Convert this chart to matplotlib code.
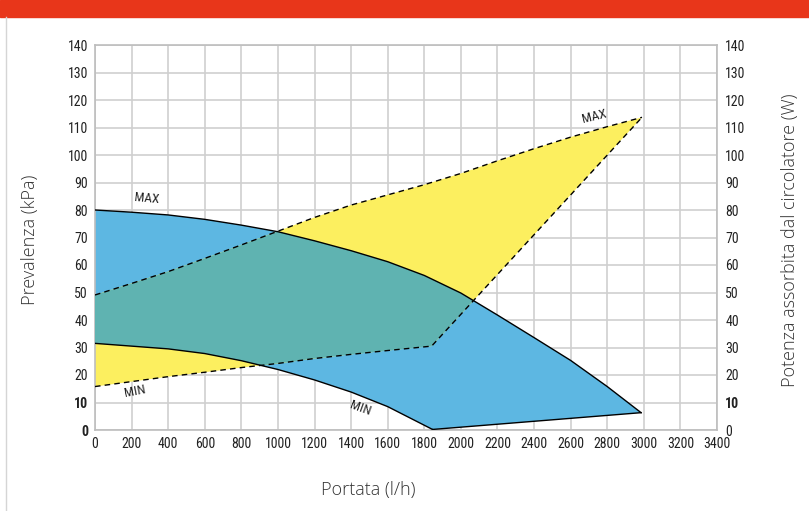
import numpy as np
import matplotlib.pyplot as plt
from matplotlib.patches import Polygon

plt.rcParams['font.family'] = ['Roboto Condensed', 'DejaVu Sans']

# curva prevalenza (kPa)
portata_max = [0, 200, 400, 600, 800, 1000, 1200, 1400, 1600, 1800, 2000, 2200, 2400, 2600, 2800, 2985]
prev_max = [80, 79.2, 78.2, 76.6, 74.5, 72.1, 68.8, 65.2, 61.2, 56.2, 49.8, 41.8, 33.6, 25.3, 15.8, 6.3]
portata_min = [0, 200, 400, 600, 800, 1000, 1200, 1400, 1600, 1845]
prev_min = [31.5, 30.5, 29.5, 27.8, 25.2, 22, 18.2, 13.8, 8.5, 0.2]

# potenza assorbita (W)
pot_portata_max = [0, 200, 400, 600, 800, 1000, 1200, 1400, 1600, 1800, 2000, 2200, 2400, 2600, 2800, 2990]
pot_max = [49.1, 53.3, 57.6, 62.4, 67.3, 72.3, 77.3, 81.8, 85.5, 89.2, 93.3, 97.9, 102.3, 106.5, 110.3, 113.7]
pot_portata_min = [0, 200, 400, 600, 800, 1000, 1200, 1400, 1600, 1840, 2990]
pot_min = [15.8, 17.6, 19.4, 21, 22.7, 24.2, 26, 27.5, 28.9, 30.5, 113.7]

x_ticks = list(range(0, 3401, 200))
y_ticks = list(range(0, 141, 10))

blu = '#5db7e2'
giallo = '#fcef5f'
verde = '#5fb3b1'
griglia = '#cfcfcf'

fig = plt.figure(figsize=(8.09, 5.11), dpi=100)
fig.patches.append(plt.Rectangle((0, 1 - 17 / 511), 1, 17 / 511, transform=fig.transFigure,
                                 color='#e8361a', zorder=0))
fig.lines.append(plt.Line2D([6 / 809, 6 / 809], [0, 1 - 17 / 511], transform=fig.transFigure,
                            color='#d5d5d5', lw=1))

ax = fig.add_axes([95 / 809, 1 - 430 / 511, 622 / 809, 385 / 511])
ax.set_xlim(0, 3400)
ax.set_ylim(0, 140)

# poligono pompa
pompa = list(zip(portata_max, prev_max)) + list(zip(portata_min, prev_min))[::-1]
pompa_patch = Polygon(pompa, closed=True, facecolor=blu, edgecolor='none', zorder=2)
ax.add_patch(pompa_patch)

# poligono potenza
potenza = list(zip(pot_portata_max, pot_max)) + list(zip(pot_portata_min, pot_min))[::-1]
ax.add_patch(Polygon(potenza, closed=True, facecolor=giallo, edgecolor='none', zorder=2))

# sovrapposizione
sovr = Polygon(potenza, closed=True, facecolor=verde, edgecolor='none', zorder=3)
ax.add_patch(sovr)
sovr.set_clip_path(pompa_patch)

# contorni
ax.plot(portata_max, prev_max, color='black', lw=1, zorder=4)
ax.plot(portata_min, prev_min, color='black', lw=1, zorder=4)
ax.plot([portata_min[-1], portata_max[-1]], [prev_min[-1], prev_max[-1]], color='black', lw=1, zorder=4)
ax.plot(pot_portata_max, pot_max, color='black', lw=1, ls=(0, (4, 3)), zorder=4)
ax.plot(pot_portata_min, pot_min, color='black', lw=1, ls=(0, (4, 3)), zorder=4)

ax.text(280, 84, 'MAX', fontsize=9.5, rotation=-5, ha='center', va='center', color='#222222', zorder=5)
ax.text(220, 14, 'MIN', fontsize=9.5, rotation=11, ha='center', va='center', color='#222222', zorder=5)
ax.text(1450, 7.8, 'MIN', fontsize=9.5, rotation=-20, ha='center', va='center', color='#222222', zorder=5)
ax.text(2730, 114, 'MAX', fontsize=9.5, rotation=14, ha='center', va='center', color='#222222', zorder=5)

ax.set_xticks(x_ticks)
ax.set_yticks(y_ticks)
ax.grid(True, color=griglia, lw=1.2, zorder=1)
ax.set_axisbelow(True)
for s in ax.spines.values():
    s.set_color('#bdbdbd')
    s.set_linewidth(1.2)
ax.tick_params(length=0, labelsize=10, colors='#222222', pad=5)

ax2 = ax.twinx()
ax2.set_ylim(0, 140)
ax2.set_yticks(y_ticks)
ax2.tick_params(length=0, labelsize=10, colors='#222222', pad=6)
for s in ax2.spines.values():
    s.set_visible(False)

for lab in ax.get_yticklabels():
    if lab.get_text() in ('10', '0'):
        lab.set_fontweight('bold')
for lab in ax2.get_yticklabels():
    if lab.get_text() == '10':
        lab.set_fontweight('bold')

etichetta = dict(fontsize=13, color='#333333', family=['Open Sans', 'DejaVu Sans'], fontweight='light')
fig.text(30 / 809, 1 - 240 / 511, 'Prevalenza (kPa)', rotation=90, ha='center', va='center', **etichetta)
fig.text(790 / 809, 1 - 240 / 511, 'Potenza assorbita dal circolatore (W)', rotation=90,
         ha='center', va='center', **etichetta)
fig.text(368 / 809, 1 - 490 / 511, 'Portata (l/h)', ha='center', va='center', **etichetta)

fig.savefig('out.png', dpi=100)
